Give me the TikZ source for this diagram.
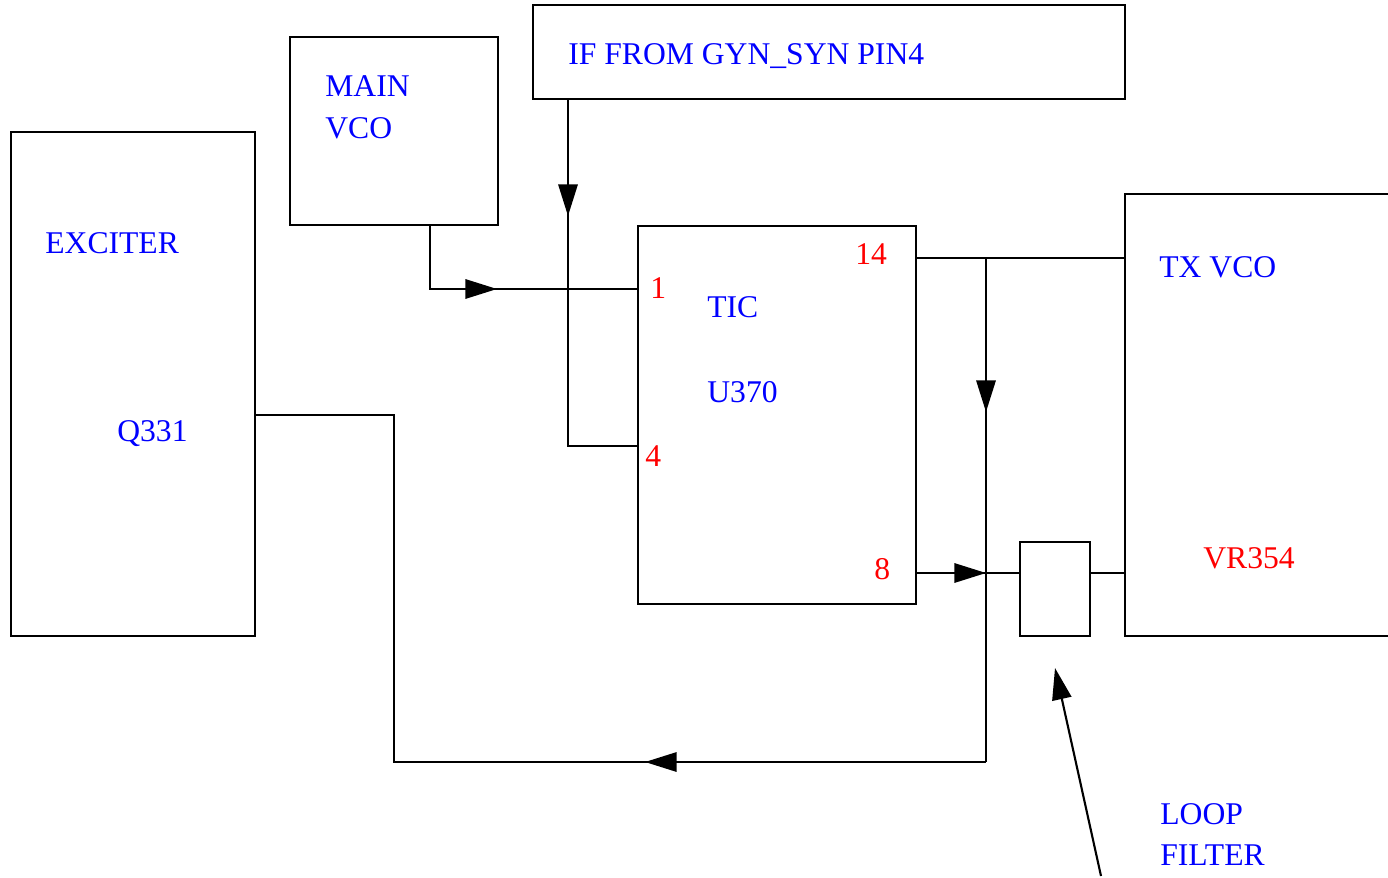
\documentclass[tikz,border=0pt]{standalone}
\usepackage{fontspec}
\setmainfont{Liberation Serif}
\usetikzlibrary{arrows.meta}

\tikzset{
  box/.style={draw, line width=1.2pt, rectangle, inner sep=0pt, outer sep=0pt, anchor=north west},
  wire/.style={line width=1.2pt},
  tip/.style={line width=1.2pt, -{Triangle[length=18pt,width=11pt]}},
  lbl/.style={text=blue, anchor=base west, inner sep=0pt, font=\fontsize{18}{21}\selectfont},
  pinlbl/.style={lbl, text=red},
}

\begin{document}
\begin{tikzpicture}[x=0.02cm,y=-0.02cm]
\useasboundingbox (0,0) rectangle (1388,878);

% Boxes
\node[box, minimum width=4.88cm, minimum height=10.08cm] (exciter) at (11,132) {};
\node[box, minimum width=4.16cm, minimum height=3.76cm] (mainvco) at (290,37) {};
\node[box, minimum width=11.84cm, minimum height=1.88cm] (ifbox) at (533,5) {};
\node[box, minimum width=5.56cm, minimum height=7.56cm] (tic) at (638,226) {};
\node[box, minimum width=1.4cm, minimum height=1.88cm] (lf) at (1020,542) {};
% TX VCO box runs off the right edge
\draw[wire] (1388,194) -- (1125,194) coordinate (txtop) -- (1125,636) coordinate (txbot) -- (1388,636);

% Labels
\node[lbl] (lexc) at (45,254) {EXCITER};
\node[lbl] (lq) at (117,441) {Q331};
\node[lbl] (lmain) at (325,97) {MAIN};
\node[lbl] (lvco) at (325,139) {VCO};
\node[lbl] (lif) at (568,65) {IF FROM GYN\_SYN PIN4};
\node[lbl] (ltic) at (707,317) {TIC};
\node[lbl] (lu) at (707,402) {U370};
\node[lbl] (ltx) at (1159,277) {TX VCO};
\node[pinlbl] (lvr) at (1203,568) {VR354};
\node[lbl] (lloop) at (1160,824) {LOOP};
\node[lbl] (lfilt) at (1160,865) {FILTER};
\node[pinlbl] (n1) at (650,298) {1};
\node[pinlbl] (n4) at (645,466) {4};
\node[pinlbl] (n14) at (855,265) {14};
\node[pinlbl] (n8) at (874,579) {8};

% Pin points
\coordinate (vcoout) at (430,225);
\coordinate (pin1) at (638,289);
\coordinate (ifout) at (568,99);
\coordinate (pin4) at (638,446);
\coordinate (pin14) at (916,258);
\coordinate (pin8) at (916,573);
\coordinate (qout) at (255,415);
\coordinate (jtop) at (986,258);
\coordinate (jbot) at (986,762);
\coordinate (lfend) at (1101,876);

% Wires
\draw[wire] (vcoout) |- (pin1);
\draw[tip] (465,289) -- (497,289);
\draw[wire] (ifout) |- (pin4);
\draw[tip] (568,180) -- (568,216);
\draw[wire] (pin14) -- (pin14 -| txtop);
\draw[wire] (jtop) -- (jbot);
\draw[tip] (986,376) -- (986,412);
\draw[wire] (pin8) -- (pin8 -| lf.west);
\draw[tip] (954,573) -- (986,573);
\draw[wire] (pin8 -| lf.east) -- (pin8 -| txtop);
\draw[wire] (qout) -| (394,762) -- (jbot);
\draw[tip] (678,762) -- (645,762);
\draw[tip] (lfend) -- (1055,668);
\end{tikzpicture}
\end{document}
